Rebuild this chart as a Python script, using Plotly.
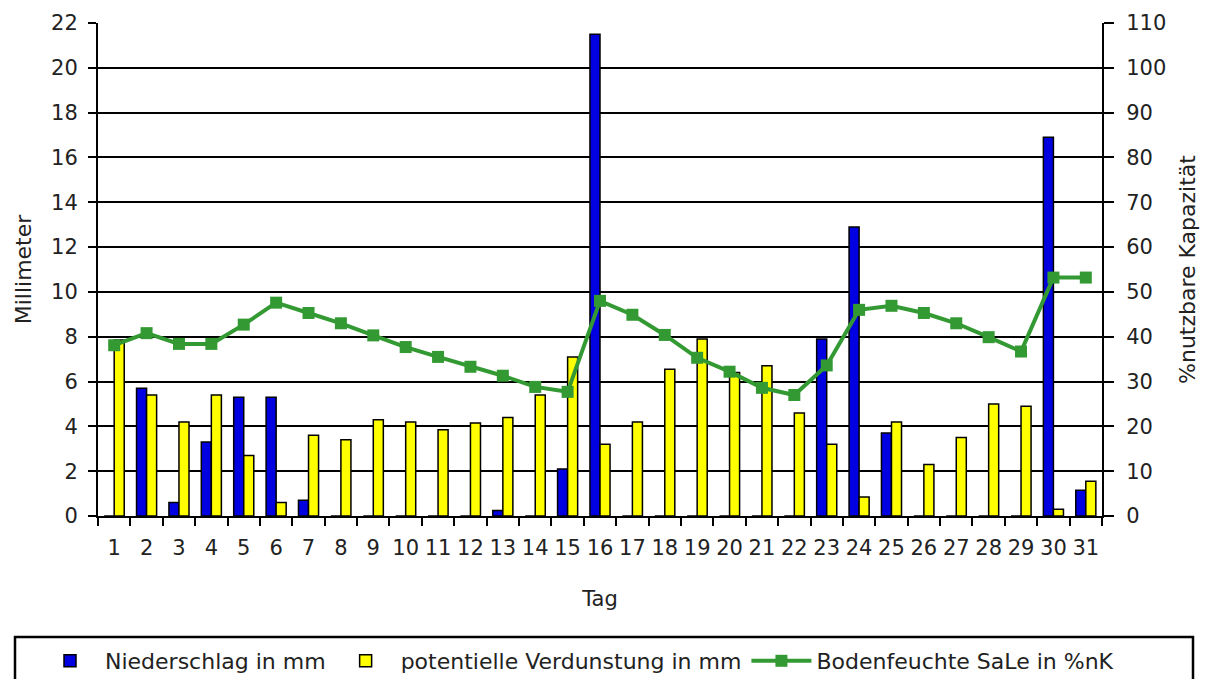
import plotly.graph_objects as go

days = [str(d) for d in range(1, 32)]
niederschlag = [0, 5.7, 0.6, 3.3, 5.3, 5.3, 0.7, 0, 0, 0, 0, 0, 0.25, 0, 2.1, 21.5,
                0, 0, 0, 0, 0, 0, 7.9, 12.9, 3.7, 0, 0, 0, 0, 16.9, 1.15]
verdunstung = [7.85, 5.4, 4.2, 5.4, 2.7, 0.6, 3.6, 3.4, 4.3, 4.2, 3.85, 4.15, 4.4, 5.4, 7.1, 3.2,
               4.2, 6.55, 7.9, 6.4, 6.7, 4.6, 3.2, 0.85, 4.2, 2.3, 3.5, 5.0, 4.9, 0.3, 1.55]
bodenfeuchte = [38.1, 40.8, 38.4, 38.4, 42.7, 47.6, 45.3, 43.0, 40.3, 37.7, 35.5, 33.3, 31.3, 28.8, 27.7, 48.0,
                44.9, 40.4, 35.3, 32.2, 28.6, 27.0, 33.6, 46.0, 46.9, 45.3, 43.0, 39.9, 36.7, 53.2, 53.2]

font = "DejaVu Sans, sans-serif"
W, H = 1210, 679
L, R, T, B = 98, 108, 23, 163
pw = W - L - R
ph = H - T - B

def px(x):
    return (x - L) / pw

def py(y):
    return (H - B - y) / ph

fig = go.Figure()
fig.add_trace(go.Bar(x=days, y=niederschlag, name="Niederschlag in mm",
                     marker=dict(color="#0000E0", line=dict(color="black", width=1.5))))
fig.add_trace(go.Bar(x=days, y=verdunstung, name="potentielle Verdunstung in mm",
                     marker=dict(color="#FFFF00", line=dict(color="black", width=1.5))))
fig.add_trace(go.Scatter(x=days, y=bodenfeuchte, name="Bodenfeuchte SaLe in %nK", yaxis="y2",
                         mode="lines+markers",
                         line=dict(color="#339933", width=4),
                         marker=dict(symbol="square", size=12, color="#339933")))

# legend frame
fig.add_shape(type="rect", xref="paper", yref="paper",
              x0=px(15), x1=px(1193), y0=py(700), y1=py(637),
              line=dict(color="black", width=2.5))

fig.update_layout(
    width=W, height=H,
    margin=dict(l=L, r=R, t=T, b=B, autoexpand=False),
    paper_bgcolor="white", plot_bgcolor="white",
    font=dict(family=font, size=21, color="#222"),
    barmode="group", bargap=0.38, bargroupgap=0,
    showlegend=True,
    legend=dict(orientation="h", x=px(35), xanchor="left", y=py(640), yanchor="top",
                borderwidth=0, font=dict(size=22), traceorder="normal",
                itemwidth=60, bgcolor="rgba(0,0,0,0)"),
    xaxis=dict(type="category", range=[-0.5, 30.5], tickangle=0,
               title=dict(text="Tag", font=dict(size=21), standoff=32),
               showline=True, linecolor="black", linewidth=2,
               ticks="outside", tickson="boundaries", ticklen=8, tickwidth=2, tickcolor="black",
               ticklabelstandoff=12,
               showgrid=False, tickfont=dict(size=21)),
    yaxis=dict(title=dict(text="Millimeter", font=dict(size=22), standoff=13),
               range=[0, 22], dtick=2, showline=True, linecolor="black", linewidth=2,
               ticks="outside", ticklen=8, tickwidth=2, tickcolor="black",
               ticklabelstandoff=6,
               showgrid=True, gridcolor="black", gridwidth=2, zeroline=False,
               tickfont=dict(size=21)),
    yaxis2=dict(title=dict(text="%nutzbare Kapazität", font=dict(size=22), standoff=14),
                overlaying="y", side="right", range=[0, 110], dtick=10,
                showline=True, linecolor="black", linewidth=2,
                ticks="outside", ticklen=10, tickwidth=2, tickcolor="black",
                ticklabelstandoff=8,
                showgrid=False, zeroline=False, tickfont=dict(size=21)),
)

fig.write_html("out.html", config={"displayModeBar": False},
               post_script="document.body.style.margin='0';document.body.style.overflow='hidden';")
